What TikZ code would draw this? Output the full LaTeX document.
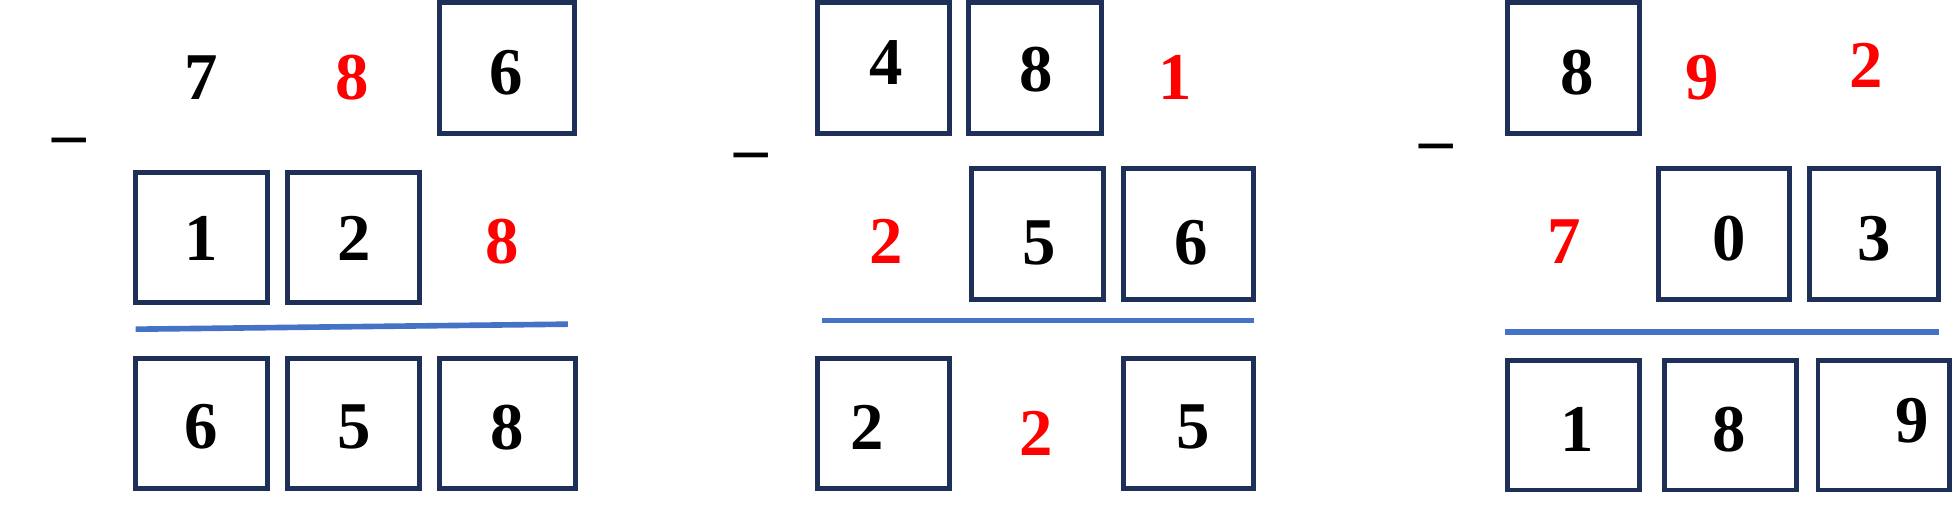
\documentclass[tikz,border=0pt]{standalone}
\usepackage{fontspec}
\setmainfont{Liberation Serif}
\definecolor{bx}{HTML}{1F3058}
\definecolor{ln}{HTML}{4472C4}
\begin{document}
\begin{tikzpicture}[x=0.012564cm,y=-0.012564cm,
 dg/.style={font=\fontsize{19}{21}\selectfont\bfseries},
 rd/.style={dg,text=red},
 bxs/.style={draw=bx,line width=1.4pt},
 rule/.style={draw=ln,line width=1.6pt}]
\useasboundingbox (0,0) rectangle (1560,415);
% group 1
\node[dg] (a1) at (160,62) {7};
\node[rd] (a2) at (280,62) {8};
\draw[bxs] (350,2) rectangle (457,106); \node[dg] (a3) at (403,58) {6};
\node[dg] (am) at (55,110) {\_};
\draw[bxs] (108,137) rectangle (213,241); \node[dg] (b1) at (160,190) {1};
\draw[bxs] (229,137) rectangle (334,241); \node[dg] (b2) at (282,190) {2};
\node[rd] (b3) at (400,192) {8};
\draw[rule] (108,262) -- (452,258);
\draw[bxs] (108,285) rectangle (213,389); \node[dg] (c1) at (160,340) {6};
\draw[bxs] (229,285) rectangle (334,389); \node[dg] (c2) at (282,340) {5};
\draw[bxs] (350,285) rectangle (458,389); \node[dg] (c3) at (404,340) {8};
% group 2
\draw[bxs] (651,2) rectangle (756,106); \node[dg] (d1) at (705,50) {4};
\draw[bxs] (771,2) rectangle (877,106); \node[dg] (d2) at (825,55) {8};
\node[rd] (d3) at (935,62) {1};
\node[dg] (dm) at (598,122) {\_};
\node[rd] (e1) at (705,192) {2};
\draw[bxs] (773,134) rectangle (878,238); \node[dg] (e2) at (827,193) {5};
\draw[bxs] (894,134) rectangle (998,238); \node[dg] (e3) at (948,193) {6};
\draw[rule] (654,255) -- (998,255);
\draw[bxs] (651,285) rectangle (756,389); \node[dg] (f1) at (690,340) {2};
\node[rd] (f2) at (825,345) {2};
\draw[bxs] (894,285) rectangle (998,389); \node[dg] (f3) at (950,340) {5};
% group 3
\draw[bxs] (1200,2) rectangle (1305,106); \node[dg] (g1) at (1255,58) {8};
\node[rd] (g2) at (1355,62) {9};
\node[rd] (g3) at (1485,52) {2};
\node[dg] (gm) at (1143,115) {\_};
\node[rd] (h1) at (1245,192) {7};
\draw[bxs] (1320,134) rectangle (1424,238); \node[dg] (h2) at (1376,190) {0};
\draw[bxs] (1440,134) rectangle (1543,238); \node[dg] (h3) at (1492,190) {3};
\draw[rule] (1198,264) -- (1543,264);
\draw[bxs] (1200,287) rectangle (1305,390); \node[dg] (i1) at (1255,342) {1};
\draw[bxs] (1325,287) rectangle (1430,390); \node[dg] (i2) at (1376,342) {8};
\draw[bxs] (1447,287) rectangle (1552,390); \node[dg] (i3) at (1522,335) {9};
\end{tikzpicture}
\end{document}
